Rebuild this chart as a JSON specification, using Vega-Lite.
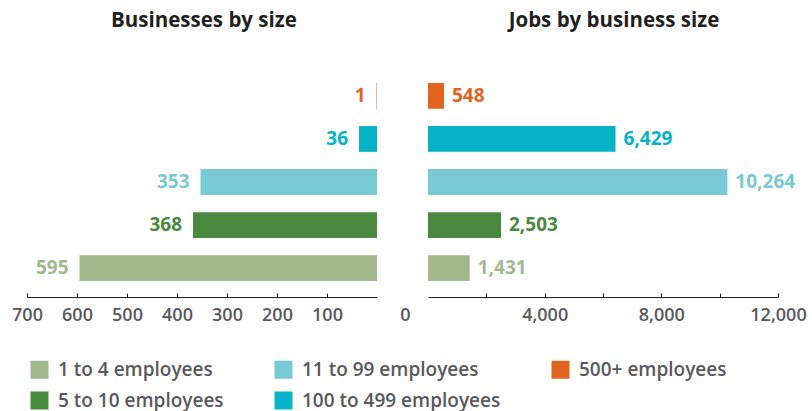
{
  "$schema": "https://vega.github.io/schema/vega-lite/v6.json",
  "autosize": {"type": "pad"},
  "padding": {"left": 11, "top": 10, "right": 0, "bottom": 0},
  "background": "white",
  "data": {
    "values": [
      {"size": "500+ employees", "businesses": 1, "jobs": 548},
      {"size": "100 to 499 employees", "businesses": 36, "jobs": 6429},
      {"size": "11 to 99 employees", "businesses": 353, "jobs": 10264},
      {"size": "5 to 10 employees", "businesses": 368, "jobs": 2503},
      {"size": "1 to 4 employees", "businesses": 595, "jobs": 1431}
    ]
  },
  "spacing": 51,
  "bounds": "flush",
  "hconcat": [
    {
      "width": 350,
      "height": 230,
      "title": {"text": "Businesses by size", "anchor": "middle", "dx": 2},
      "encoding": {
        "y": {"field": "size", "type": "nominal", "sort": ["500+ employees", "100 to 499 employees", "11 to 99 employees", "5 to 10 employees", "1 to 4 employees"], "axis": null, "scale": {"paddingInner": 0.4, "paddingOuter": 0.37}},
        "color": {"field": "size", "type": "nominal",
          "scale": {"domain": ["1 to 4 employees", "5 to 10 employees", "11 to 99 employees", "100 to 499 employees", "500+ employees"],
                    "range": ["#a2b98d", "#4a8a3f", "#77c9d4", "#07b3c6", "#e0641e"]},
          "legend": {"orient": "none", "legendX": 3, "legendY": 293, "columns": 3, "title": null, "symbolType": "square", "symbolSize": 324, "symbolStrokeWidth": 0, "symbolOpacity": 1, "labelFont": "Open Sans", "labelFontSize": 19, "labelFontWeight": 600, "labelColor": "#58595b", "columnPadding": 50, "rowPadding": 11, "labelOffset": 9, "labelLimit": 300}
        }
      },
      "layer": [
        {
          "mark": {"type": "bar"},
          "encoding": {
            "x": {"field": "businesses", "type": "quantitative",
              "scale": {"domain": [0, 700], "reverse": true, "nice": false},
              "axis": {"values": [100, 200, 300, 400, 500, 600, 700], "title": null, "grid": false, "labelFlush": false, "labelOverlap": false}
            }
          }
        },
        {
          "mark": {"type": "text", "align": "right", "dx": -11, "font": "Open Sans", "fontSize": 19, "fontWeight": "bold"},
          "encoding": {
            "x": {"field": "businesses", "type": "quantitative"},
            "text": {"field": "businesses", "type": "quantitative", "format": ","}
          }
        }
      ]
    },
    {
      "width": 350,
      "height": 230,
      "title": {"text": "Jobs by business size", "anchor": "middle", "dx": 11},
      "encoding": {
        "y": {"field": "size", "type": "nominal", "sort": ["500+ employees", "100 to 499 employees", "11 to 99 employees", "5 to 10 employees", "1 to 4 employees"], "axis": null, "scale": {"paddingInner": 0.4, "paddingOuter": 0.37}},
        "color": {"field": "size", "type": "nominal"}
      },
      "layer": [
        {
          "mark": {"type": "bar"},
          "encoding": {
            "x": {"field": "jobs", "type": "quantitative",
              "scale": {"domain": [0, 12000], "nice": false},
              "axis": {"values": [0, 2000, 4000, 6000, 8000, 10000, 12000], "title": null, "grid": false, "labelFlush": false, "labelOverlap": false,
                "labelExpr": "datum.value % 4000 == 0 ? format(datum.value, ',') : ''",
                "labelOffset": {"condition": {"test": "datum.value == 0", "value": -23}, "value": 0},
                "tickColor": {"condition": {"test": "datum.value == 0", "value": "transparent"}, "value": "#231f20"}}
            }
          }
        },
        {
          "mark": {"type": "text", "align": "left", "dx": 8, "font": "Open Sans", "fontSize": 19, "fontWeight": "bold"},
          "encoding": {
            "x": {"field": "jobs", "type": "quantitative"},
            "text": {"field": "jobs", "type": "quantitative", "format": ","}
          }
        }
      ]
    }
  ],
  "config": {
    "view": {"stroke": null},
    "title": {"font": "Open Sans", "fontSize": 20.5, "fontWeight": "bold", "color": "#231f20", "offset": 36},
    "axis": {"domainColor": "#231f20", "tickColor": "#231f20", "tickSize": -4, "labelPadding": 13, "labelFont": "Open Sans", "labelFontSize": 18, "labelFontWeight": 600, "labelColor": "#58595b"}
  }
}
